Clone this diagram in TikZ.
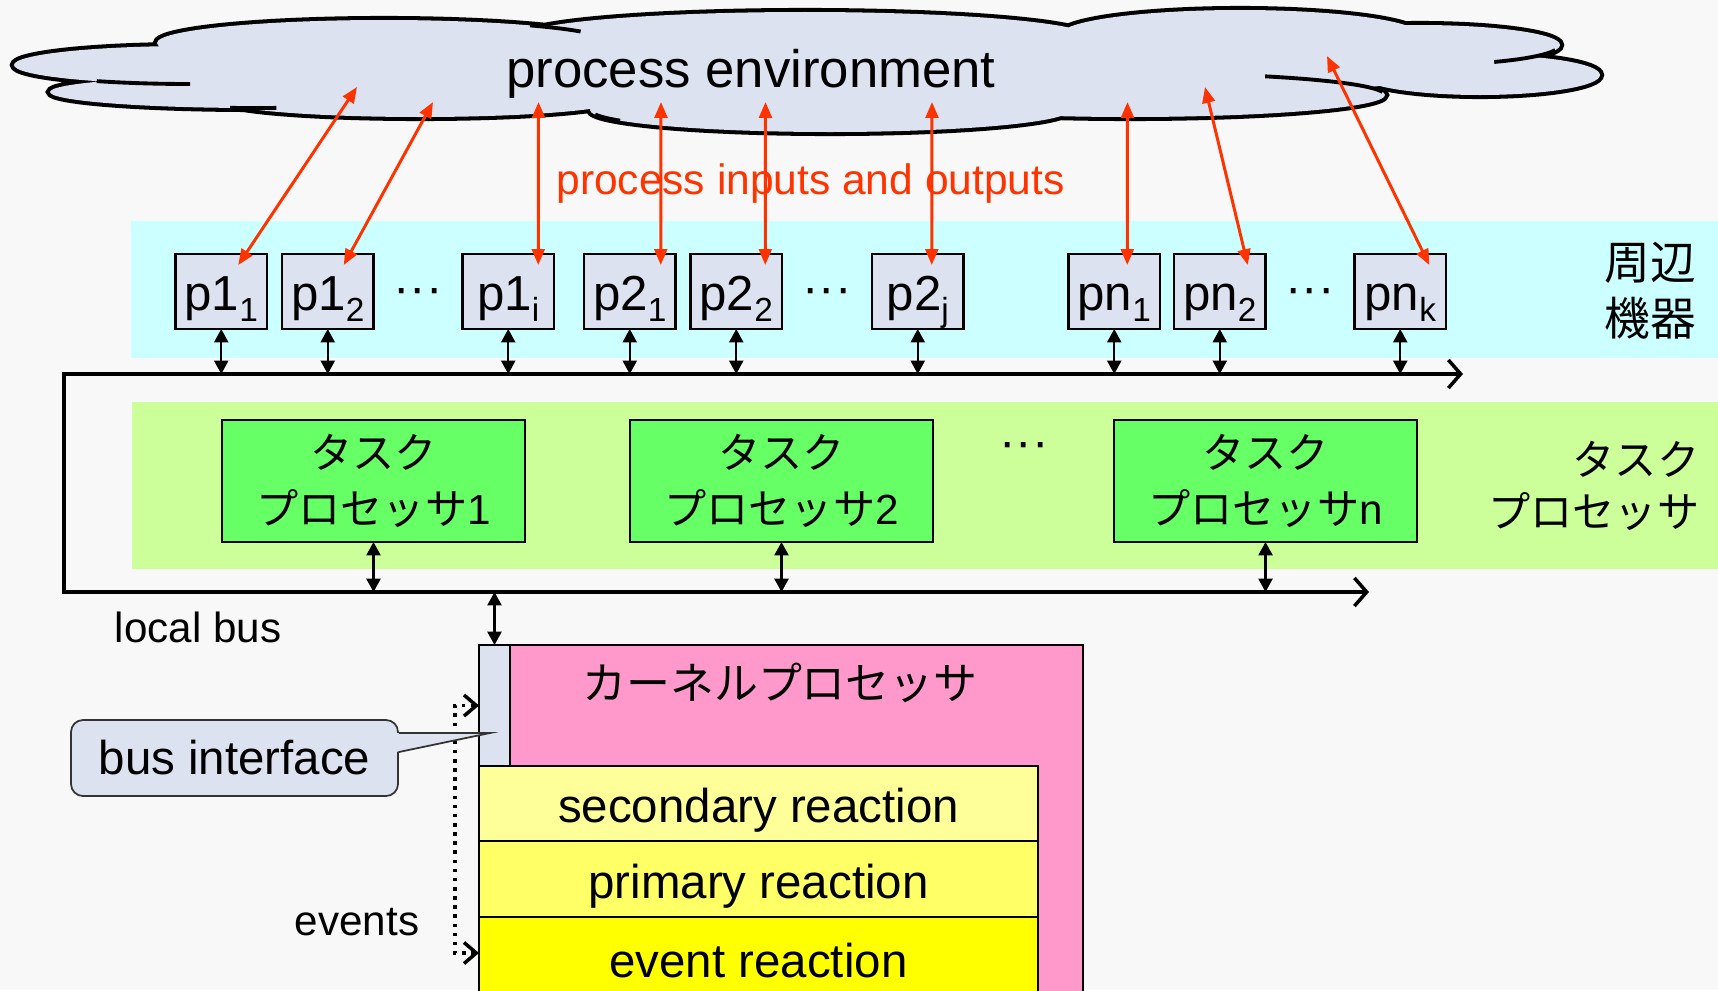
\documentclass[tikz,border=0pt]{standalone}
\usepackage{fontspec}
\setmainfont{Liberation Sans}
\newfontfamily\jp{Noto Sans CJK JP}
\usetikzlibrary{positioning, calc, arrows.meta}

\definecolor{slidebg}{HTML}{F8F8F8}
\definecolor{cloudblue}{HTML}{DCE2F0}
\definecolor{cyanband}{HTML}{CCFFFF}
\definecolor{greenband}{HTML}{CCFF99}
\definecolor{taskgreen}{HTML}{66FF66}
\definecolor{kernelpink}{HTML}{FF99CC}
\definecolor{secyellow}{HTML}{FFFF99}
\definecolor{primyellow}{HTML}{FFFF66}
\definecolor{evyellow}{HTML}{FFFF00}
\definecolor{ioRed}{HTML}{FF3300}

\newcommand{\psub}[1]{\raisebox{-3.4pt}{\fontsize{9.5}{11}\selectfont #1}}

\begin{document}
\begin{tikzpicture}[every node/.style={align=center},
    pbox/.style={rectangle, draw, line width=0.6pt, fill=cloudblue, minimum width=0.915cm, minimum height=0.75cm,
        inner sep=0pt, outer sep=0pt, text height=0.40cm, text depth=0.03cm, font=\fontsize{14}{16}\selectfont},
    taskbox/.style={rectangle, draw, line width=0.6pt, fill=taskgreen, minimum width=3.03cm, minimum height=1.22cm,
        inner sep=0pt, outer sep=0pt, font=\fontsize{12}{16}\selectfont\jp},
    reaction/.style={rectangle, draw, line width=0.6pt, minimum width=5.59cm, inner sep=0pt, outer sep=0pt,
        text height=0.40cm, text depth=0.02cm, font=\fontsize{13.5}{16}\selectfont},
    dotsnode/.style={inner sep=0pt, yshift=-0.05cm, font=\fontsize{14}{16}\selectfont},
    bidir/.style={{Triangle[length=3.8pt,width=4pt]}-{Triangle[length=3.8pt,width=4pt]}, line width=0.6pt},
    ioarrow/.style={ioRed, line width=0.85pt, {Triangle[length=4.5pt,width=3.6pt]}-{Triangle[length=4.5pt,width=3.6pt]}},
    busline/.style={line width=1pt, {Straight Barb[length=3.5pt,width=8pt]}-{Straight Barb[length=3.5pt,width=8pt]}},
    evline/.style={line width=1pt, dash pattern=on 1pt off 1.6pt, {Straight Barb[length=3.5pt,width=6pt]}-{Straight Barb[length=3.5pt,width=6pt]}}]
    \useasboundingbox (0,0) rectangle (17.18,-9.90);
    \fill[slidebg] (0,0) rectangle (17.18,-9.90);

    % Bands behind the rows
    \fill[cyanband] (1.31,-2.21) rectangle (17.18,-3.58);
    \fill[greenband] (1.32,-4.02) rectangle (17.18,-5.69);

    % Process environment cloud
    \path[draw, line width=2.3pt, postaction={fill=cloudblue, draw=none}]
        (1.90,-0.65) ellipse [x radius=1.76, y radius=0.19]
        (2.55,-0.92) ellipse [x radius=2.05, y radius=0.16]
        (3.84,-0.43) ellipse [x radius=2.27, y radius=0.23]
        (8.05,-0.37) ellipse [x radius=2.85, y radius=0.25]
        (12.40,-0.35) ellipse [x radius=1.80, y radius=0.25]
        (14.20,-0.45) ellipse [x radius=1.40, y radius=0.20]
        (14.80,-0.75) ellipse [x radius=1.20, y radius=0.20]
        (11.30,-0.95) ellipse [x radius=2.55, y radius=0.22]
        (4.20,-1.00) ellipse [x radius=2.00, y radius=0.17]
        (8.30,-1.10) ellipse [x radius=2.40, y radius=0.22];
    \fill[cloudblue] (2.00,-0.60) -- (6.00,-0.35) -- (10.00,-0.35) -- (14.00,-0.40) -- (15.20,-0.70)
        -- (13.00,-0.95) -- (9.00,-1.10) -- (5.00,-1.05) -- (2.50,-0.90) -- cycle;
    \draw[line width=1.1pt] (1.90,-0.65) ++(238:1.76cm and 0.19cm) arc [start angle=238, end angle=270, x radius=1.76, y radius=0.19];
    \draw[line width=1.1pt] (2.55,-0.92) ++(263:2.05cm and 0.16cm) arc [start angle=263, end angle=276, x radius=2.05, y radius=0.16];
    \draw[line width=1.1pt] (3.84,-0.43) ++(50:2.27cm and 0.23cm) arc [start angle=50, end angle=30, x radius=2.27, y radius=0.23];
    \draw[line width=1.1pt] (8.30,-1.10) ++(192:2.40cm and 0.22cm) arc [start angle=192, end angle=209, x radius=2.40, y radius=0.22];
    \draw[line width=1.1pt] (11.30,-0.95) ++(58:2.55cm and 0.22cm) arc [start angle=58, end angle=8, x radius=2.55, y radius=0.22];
    \draw[line width=1.1pt] (14.20,-0.45) ++(-58:1.40cm and 0.20cm) arc [start angle=-58, end angle=-15, x radius=1.40, y radius=0.20];
    \node (env) [font=\fontsize{15}{17}\selectfont] at (7.51,-0.735) {process environment};

    % Ends of the process inputs and outputs inside the cloud
    \coordinate (c1) at (3.57,-0.87);
    \coordinate (c2) at (4.33,-1.02);
    \coordinate (c3) at (5.385,-1.02);
    \coordinate (c4) at (6.61,-1.02);
    \coordinate (c5) at (7.655,-1.02);
    \coordinate (c6) at (9.32,-1.02);
    \coordinate (c7) at (11.275,-1.02);
    \coordinate (c8) at (12.05,-0.87);
    \coordinate (c9) at (13.27,-0.56);

    % Peripheral boxes
    \node (p11) [pbox] at (2.2125,-2.915) {p1\psub{1}};
    \node (p12) [pbox, right=0.15cm of p11] {p1\psub{2}};
    \node (p1i) [pbox, right=0.89cm of p12] {p1\psub{i}};
    \node (p21) [pbox, right=0.30cm of p1i] {p2\psub{1}};
    \node (p22) [pbox, right=0.15cm of p21] {p2\psub{2}};
    \node (p2j) [pbox, right=0.90cm of p22] {p2\psub{j}};
    \node (pn1) [pbox, right=1.05cm of p2j] {pn\psub{1}};
    \node (pn2) [pbox, right=0.14cm of pn1] {pn\psub{2}};
    \node (pnk) [pbox, right=0.89cm of pn2] {pn\psub{k}};
    \node (dots1) [dotsnode] at ($(p12.east)!0.5!(p1i.west)$) {···};
    \node (dots2) [dotsnode] at ($(p22.east)!0.5!(p2j.west)$) {···};
    \node (dots3) [dotsnode] at ($(pn2.east)!0.5!(pnk.west)$) {···};
    \node (periph) [inner sep=0pt, font=\fontsize{13}{16}\selectfont\jp] at (16.50,-2.91) {周辺\\機器};

    % Process inputs and outputs
    \draw[ioarrow] (c1) -- ($(p11.north)+(0.17,-0.11)$);
    \draw[ioarrow] (c2) -- ($(p12.north)+(0.16,-0.11)$);
    \draw[ioarrow] (c3) -- ($(p1i.north)+(0.30,-0.11)$);
    \draw[ioarrow] (c4) -- ($(p21.north)+(0.31,-0.11)$);
    \draw[ioarrow] (c5) -- ($(p22.north)+(0.29,-0.11)$);
    \draw[ioarrow] (c6) -- ($(p2j.north)+(0.14,-0.11)$);
    \draw[ioarrow] (c7) -- ($(pn1.north)+(0.13,-0.11)$);
    \draw[ioarrow] (c8) -- ($(pn2.north)+(0.28,-0.11)$);
    \draw[ioarrow] (c9) -- ($(pnk.north)+(0.29,-0.11)$);
    \node (iolabel) [text=ioRed, font=\fontsize{12.1}{14}\selectfont] at (8.105,-1.84) {process inputs and outputs};

    % Local bus
    \coordinate (bus1w) at (0.64,-3.74);
    \coordinate (bus1e) at (14.63,-3.74);
    \coordinate (bus2w) at (0.64,-5.92);
    \coordinate (bus2e) at (13.69,-5.92);
    \draw[busline] (bus1e) -- (bus1w) -- (bus2w) -- (bus2e);
    \node (buslabel) [font=\fontsize{12}{14}\selectfont] at (1.98,-6.27) {local bus};

    \draw[bidir] (p11.south) -- (p11.south |- bus1w);
    \draw[bidir] (p12.south) -- (p12.south |- bus1w);
    \draw[bidir] (p1i.south) -- (p1i.south |- bus1w);
    \draw[bidir] (p21.south) -- (p21.south |- bus1w);
    \draw[bidir] (p22.south) -- (p22.south |- bus1w);
    \draw[bidir] (p2j.south) -- (p2j.south |- bus1w);
    \draw[bidir] (pn1.south) -- (pn1.south |- bus1w);
    \draw[bidir] (pn2.south) -- (pn2.south |- bus1w);
    \draw[bidir] (pnk.south) -- (pnk.south |- bus1w);

    % Task processors
    \node (task1) [taskbox] at (3.735,-4.81) {タスク\\プロセッサ{\rmfamily 1}};
    \node (task2) [taskbox, right=1.05cm of task1] {タスク\\プロセッサ{\rmfamily 2}};
    \node (task3) [taskbox, right=1.81cm of task2] {タスク\\プロセッサ{\rmfamily n}};
    \node (dots4) [dotsnode] at (10.24,-4.45) {···};
    \node (tasklabel) [anchor=east, align=right, inner sep=0pt, font=\fontsize{12}{15}\selectfont\jp] at (17.00,-4.86) {タスク\\プロセッサ};
    \draw[bidir] (task1.south) -- (task1.south |- bus2w);
    \draw[bidir] (task2.south) -- (task2.south |- bus2w);
    \draw[bidir] (task3.south) -- (task3.south |- bus2w);

    % Kernel processor
    \node (kernel) [draw, line width=0.6pt, fill=kernelpink, minimum width=6.04cm, minimum height=3.55cm,
        inner sep=0pt, outer sep=0pt] at (7.81,-8.225) {};
    \node (ktitle) [font=\fontsize{12.5}{15}\selectfont\jp] at (7.80,-6.83) {カーネルプロセッサ};
    \node (busif) [draw, line width=0.6pt, fill=cloudblue, minimum width=0.31cm, minimum height=1.21cm,
        inner sep=0pt, outer sep=0pt] at (4.945,-7.055) {};
    \node (secondary) [reaction, fill=secyellow, minimum height=0.75cm] at (7.585,-8.035) {secondary reaction};
    \node (primary) [reaction, fill=primyellow, minimum height=0.76cm, below=0cm of secondary] {primary reaction};
    \node (eventr) [reaction, fill=evyellow, minimum height=0.83cm, below=0cm of primary] {event reaction};
    \draw[bidir] (busif.north |- bus2w) -- (busif.north);

    % Events into the kernel
    \coordinate (evbend) at (4.55,-9.53);
    \draw[evline] (busif.west) -| (evbend) -- (evbend -| eventr.west);
    \node (evlabel) [font=\fontsize{12}{14}\selectfont] at (3.57,-9.22) {events};

    % Bus interface callout
    \node (bifnote) [draw=black!80, line width=0.5pt, fill=cloudblue, rounded corners=0.12cm, minimum width=3.27cm,
        minimum height=0.76cm, inner sep=0pt, font=\fontsize{13.5}{16}\selectfont] at (2.345,-7.58) {bus interface};
    \coordinate (biftip) at (4.90,-7.33);
    \fill[cloudblue] ($(bifnote.east)+(-0.03,0.25)$) -- (biftip) -- ($(bifnote.east)+(-0.03,0.06)$) -- cycle;
    \draw[black!80, line width=0.5pt] ($(bifnote.east)+(0,0.25)$) -- (biftip) -- ($(bifnote.east)+(0,0.06)$);
\end{tikzpicture}
\end{document}
